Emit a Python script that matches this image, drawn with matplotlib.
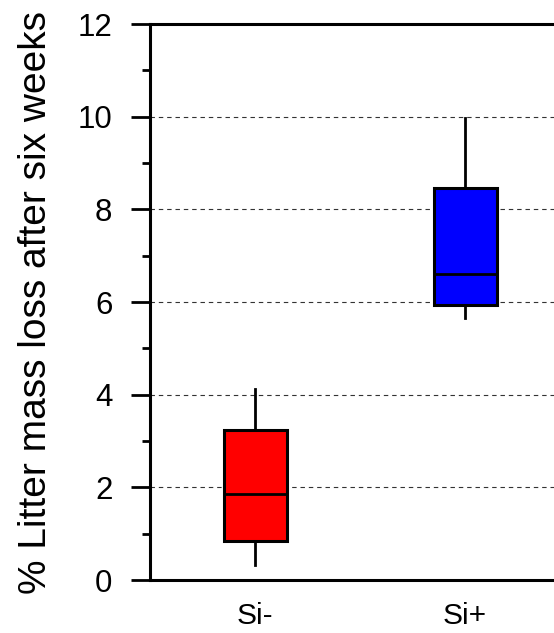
import matplotlib
matplotlib.use("Agg")
import matplotlib.pyplot as plt
from matplotlib.ticker import MultipleLocator

plt.rcParams['font.family'] = ['Liberation Sans', 'DejaVu Sans']

# Treatment groups and box-plot summary statistics
groups = ["Si-", "Si+"]
whisker_low = [0.32, 5.66]
q1 = [0.85, 5.93]
median = [1.85, 6.60]
q3 = [3.23, 8.47]
whisker_high = [4.13, 9.98]
colors = ["#ff0000", "#0000ff"]

fig = plt.figure(figsize=(5.54, 6.33), dpi=100)
ax = fig.add_axes([150 / 554, 53 / 633, 420 / 554, 556 / 633])

stats = []
for i, g in enumerate(groups):
    stats.append(dict(label=g, whislo=whisker_low[i], q1=q1[i], med=median[i],
                      q3=q3[i], whishi=whisker_high[i], fliers=[]))

bp = ax.bxp(stats, positions=[1, 2], widths=0.3, patch_artist=True,
            showcaps=False, showfliers=False,
            boxprops=dict(linewidth=2.2, edgecolor="black"),
            medianprops=dict(color="black", linewidth=2.0),
            whiskerprops=dict(color="black", linewidth=2.0))
for patch, c in zip(bp["boxes"], colors):
    patch.set_facecolor(c)

ax.set_xlim(0.5, 2.5)
ax.set_ylim(0, 12)
ax.yaxis.set_major_locator(MultipleLocator(2))
ax.yaxis.set_minor_locator(MultipleLocator(1))

for y in [2, 4, 6, 8, 10]:
    ax.axhline(y, color="#333333", linewidth=0.8, linestyle=(0, (4, 3.5)), zorder=0)

for side in ["left", "bottom", "top"]:
    ax.spines[side].set_linewidth(2.2)
ax.spines["right"].set_visible(False)

ax.tick_params(axis="y", which="major", direction="out", length=14, width=2,
               labelsize=22.5, pad=13)
ax.tick_params(axis="y", which="minor", direction="out", length=6, width=2)
ax.tick_params(axis="x", which="major", length=0, labelsize=21.5, pad=16)
ax.set_xticks([1, 2])
ax.set_xticklabels(groups)

ax.set_ylabel("% Litter mass loss after six weeks", fontsize=28, labelpad=17)

fig.savefig("out.png", dpi=100)
